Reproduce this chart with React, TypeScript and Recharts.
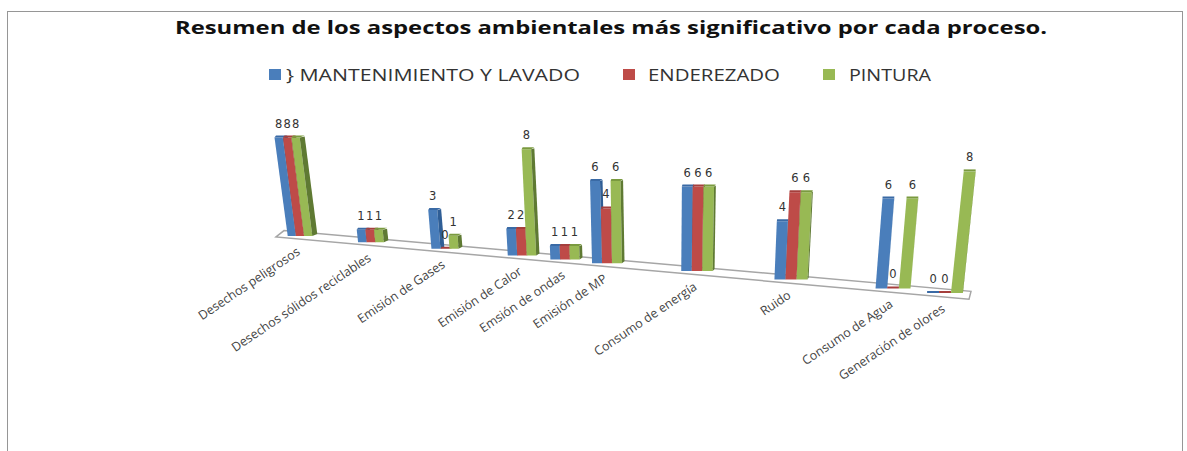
import { BarChart, Bar, XAxis, YAxis, Legend, LabelList, ReferenceArea } from "recharts";

const categories = [
  "Desechos peligrosos",
  "Desechos sólidos reciclables",
  "Emisión de Gases",
  "Emisión de Calor",
  "Emsión de ondas",
  "Emisión de MP",
  "Consumo de energía",
  "Ruido",
  "Consumo de Agua",
  "Generación de olores",
];
const mantenimiento = [8, 1, 3, 2, 1, 6, 6, 4, 6, 0];
const enderezado = [8, 1, 0, 2, 1, 4, 6, 6, 0, 0];
const pintura = [8, 1, 1, 8, 1, 6, 6, 6, 6, 8];

// the source picture spaces its categories unevenly along the floor
const categorySlots = [300, 371, 445, 522, 565, 607, 697, 791, 893, 945];

const chartData = categories.map((name, i) => ({
  name,
  slot: categorySlots[i],
  mantenimiento: mantenimiento[i],
  enderezado: enderezado[i],
  pintura: pintura[i],
}));

const WIDTH = 1187;
const HEIGHT = 451;
const BASELINE = 236;
const UNIT = 14;
const LEGEND_HEIGHT = 26;
const FONT = "'Open Sans', sans-serif";

// Fake 3D: the flat bars from the scales are pushed through these
const floorDrop = (x: number) => (x - 300) * 0.0884;
const heightScale = (x: number) => (12.3 + (x - 300) * 0.0045) / UNIT;
const barWidthAt = (x: number) => 8.2 + (x - 300) * 0.0058;
const leanAt = (x: number) => (x - 660) * 0.00036;
const depthAt = (x: number) => Math.max(0, 5 * (1 - (x - 300) / 620));

function project(cx: number, seriesIndex: number, flatHeight: number) {
  const w = barWidthAt(cx);
  const left = cx + (seriesIndex - 1.5) * w;
  const base = BASELINE + floorDrop(cx);
  const h = flatHeight * heightScale(cx);
  const shift = h * leanAt(left);
  return { w, left, base, h, shift, top: base - h };
}

const poly = (pts: number[][]) => pts.map((p) => p.join(",")).join(" ");

function bar3d(seriesIndex: number, front: string, side: string, lid: string) {
  return function Bar3d(props: any) {
    const cx = props.x + props.width / 2 - (seriesIndex - 1) * props.width;
    const { w, left, base, shift, top } = project(cx, seriesIndex, props.height);
    const d = depthAt(cx);
    const lift = 2;
    const tl = left + shift;
    return (
      <g>
        <polygon points={poly([[tl, top], [tl + w, top], [left + w, base], [left, base]])} fill={front} />
        <polygon
          points={poly([[tl + w, top], [tl + w + d, top - 1], [left + w + d, base - 2], [left + w, base]])}
          fill={side}
        />
        <polygon
          points={poly([[tl, top], [tl + w, top], [tl + w + d, top - lift], [tl + d * 0.3, top - lift]])}
          fill={lid}
        />
      </g>
    );
  };
}

function barLabel(seriesIndex: number) {
  return function BarValue(props: any) {
    const cx = props.x + props.width / 2 - (seriesIndex - 1) * props.width;
    const flat = Math.abs(props.height);
    const { w, left, shift, top } = project(cx, seriesIndex, flat);
    return (
      <text
        x={left + shift + w / 2}
        y={top - 10}
        textAnchor="middle"
        fontFamily="'DejaVu Sans', sans-serif"
        fontSize={11.5}
        fill="#333"
      >
        {props.value}
      </text>
    );
  };
}

function FloorTick({ x, payload }: any) {
  const i = categorySlots.indexOf(payload.value);
  const y = BASELINE + floorDrop(x) + 15;
  return (
    <text
      transform={`translate(${x - 1},${y}) rotate(-34)`}
      textAnchor="end"
      dominantBaseline="middle"
      fontFamily={FONT}
      fontSize={12.5}
      fill="#444"
    >
      {categories[i]}
    </text>
  );
}

function Floor({ x, width }: any) {
  const right = x + width;
  return (
    <polygon
      points={poly([
        [x, BASELINE + floorDrop(x) + 3],
        [x + 8, BASELINE + floorDrop(x + 8) - 4],
        [right, BASELINE + floorDrop(right) - 4],
        [right - 2, BASELINE + floorDrop(right) + 4],
      ])}
      fill="#fff"
      stroke="#a6a6a6"
      strokeWidth={1.5}
    />
  );
}

const legendItems = [
  { name: "} MANTENIMIENTO Y LAVADO", swatch: 269, label: 286, width: 294 },
  { name: "ENDEREZADO", swatch: 623, label: 648, width: 132 },
  { name: "PINTURA", swatch: 823, label: 849, width: 82 },
];

function ChartLegend({ payload }: any) {
  return (
    <div style={{ position: "relative", height: LEGEND_HEIGHT }}>
      {(payload ?? []).map((entry: any) => {
        const item = legendItems.find((l) => l.name === entry.value)!;
        return (
          <div key={entry.value}>
            <span
              style={{ position: "absolute", left: item.swatch, top: 8, width: 12, height: 11, background: entry.color }}
            />
            <svg style={{ position: "absolute", left: item.label, top: 0 }} width={item.width + 4} height={LEGEND_HEIGHT}>
              <text
                x={0}
                y={20}
                fontFamily={FONT}
                fontSize={17}
                fill="#333"
                textLength={item.width}
                lengthAdjust="spacingAndGlyphs"
              >
                {entry.value}
              </text>
            </svg>
          </div>
        );
      })}
    </div>
  );
}

export default function App() {
  return (
    <div style={{ position: "absolute", left: 0, top: 0, width: WIDTH, height: HEIGHT, background: "#fff", overflow: "hidden" }}>
      <div
        style={{
          position: "absolute",
          left: 7,
          top: 11,
          width: 1174,
          height: 460,
          border: "1.5px solid #969696",
        }}
      />
      <BarChart
        width={WIDTH}
        height={HEIGHT}
        data={chartData}
        barSize={8}
        barGap={0}
        margin={{ top: BASELINE - 10 * UNIT - LEGEND_HEIGHT, right: 0, bottom: 0, left: 0 }}
      >
        <XAxis
          dataKey="slot"
          type="number"
          domain={[0, WIDTH]}
          ticks={categorySlots}
          interval={0}
          axisLine={false}
          tickLine={false}
          tick={<FloorTick />}
          height={HEIGHT - BASELINE}
        />
        <YAxis hide domain={[0, 10]} />
        <ReferenceArea x1={276} x2={971} y1={0} y2={1} shape={<Floor />} />
        <Legend
          verticalAlign="top"
          itemSorter={null}
          content={<ChartLegend />}
          wrapperStyle={{ position: "absolute", left: 0, top: 61, width: WIDTH }}
        />
        <text
          x={175}
          y={34}
          fontFamily={FONT}
          fontWeight={700}
          fontSize={18}
          fill="#111"
          textLength={872}
          lengthAdjust="spacingAndGlyphs"
        >
          Resumen de los aspectos ambientales más significativo por cada proceso.
        </text>
        <Bar
          dataKey="mantenimiento"
          name="} MANTENIMIENTO Y LAVADO"
          fill="#4a7ebb"
          isAnimationActive={false}
          shape={bar3d(0, "#4a7ebb", "#2f5e96", "#3a6aa5")}
        >
          <LabelList dataKey="mantenimiento" content={barLabel(0)} />
        </Bar>
        <Bar
          dataKey="enderezado"
          name="ENDEREZADO"
          fill="#be4b48"
          isAnimationActive={false}
          shape={bar3d(1, "#be4b48", "#8e3532", "#a53f3c")}
        >
          <LabelList dataKey="enderezado" content={barLabel(1)} />
        </Bar>
        <Bar
          dataKey="pintura"
          name="PINTURA"
          fill="#98b954"
          isAnimationActive={false}
          shape={bar3d(2, "#98b954", "#5f7a33", "#7a9a3f")}
        >
          <LabelList dataKey="pintura" content={barLabel(2)} />
        </Bar>
      </BarChart>
    </div>
  );
}
